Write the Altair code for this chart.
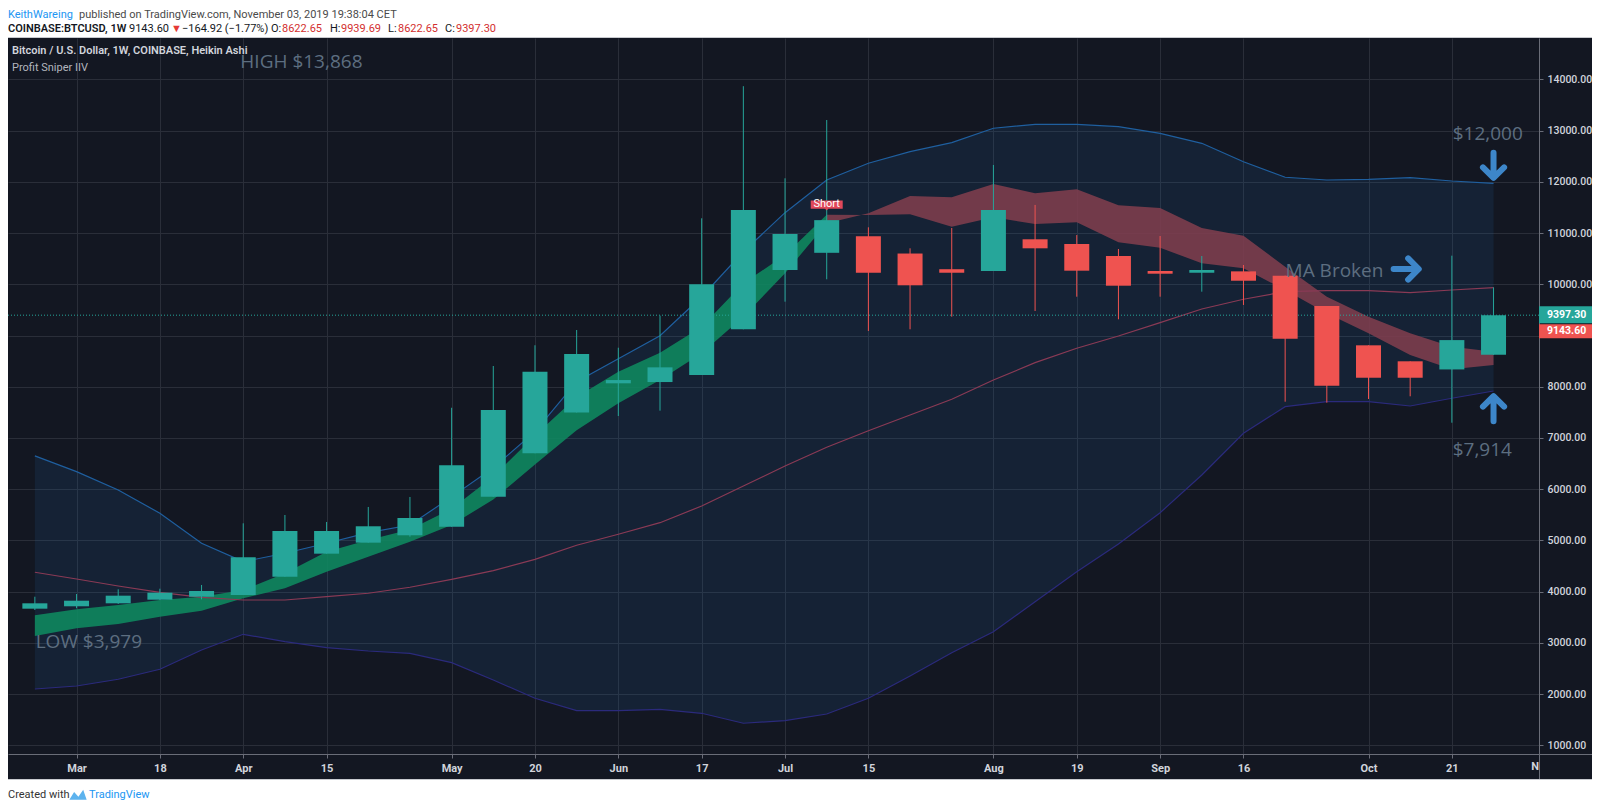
import json
import numpy as np
import pandas as pd
import altair as alt

# ---------------- data ----------------
week_start = ["2019-02-25", "2019-03-04", "2019-03-11", "2019-03-18", "2019-03-25",
              "2019-04-01", "2019-04-08", "2019-04-15", "2019-04-22", "2019-04-29",
              "2019-05-06", "2019-05-13", "2019-05-20", "2019-05-27", "2019-06-03",
              "2019-06-10", "2019-06-17", "2019-06-24", "2019-07-01", "2019-07-08",
              "2019-07-15", "2019-07-22", "2019-07-29", "2019-08-05", "2019-08-12",
              "2019-08-19", "2019-08-26", "2019-09-02", "2019-09-09", "2019-09-16",
              "2019-09-23", "2019-09-30", "2019-10-07", "2019-10-14", "2019-10-21",
              "2019-10-28"]

ha_open = [3667, 3714, 3772, 3843, 3901, 3934, 4292, 4741, 4956, 5100, 5268, 5854,
           6701, 7497, 8067, 8092, 8230, 9122, 10279, 10615, 10940, 10601, 10295,
           10260, 10879, 10787, 10553, 10260, 10226, 10253, 10169, 9577, 8809, 8497,
           8338, 8622.65]
ha_close = [3772, 3823, 3921, 3979, 4012, 4670, 5184, 5184, 5276, 5438, 6467, 7548,
            8294, 8640, 8131, 8379, 10000, 11452, 10980, 11253, 10226, 9981, 10226,
            11452, 10703, 10266, 9973, 10207, 10279, 10070, 8939, 8021, 8176, 8176,
            8911, 9397.30]
ha_high = [3901, 3954, 4046, 4057, 4130, 5334, 5496, 5360, 5653, 5848, 7590, 8405,
           8810, 9108, 8762, 9388, 11289, 13868, 12070, 13208, 11113, 10703, 11100,
           12330, 11550, 10962, 10689, 10943, 10553, 10377, 10169, 9577, 8809, 8497,
           10559, 9939.69]
ha_low = [3641, 3675, 3760, 3837, 3850, 3934, 4292, 4741, 4956, 5073, 5268, 5854,
          6701, 7497, 7429, 7533, 8230, 9122, 9661, 10098, 9089, 9122, 9368, 10260,
          9479, 9758, 9317, 9758, 9856, 9597, 7708, 7689, 7761, 7814, 7298, 8622.65]

bb_upper = [6651, 6342, 5985, 5530, 4944, 4585, 4749, 4944, 5151, 5300, 5850, 6420,
            7123, 8099, 8548, 8997, 9758, 10637, 11399, 12037, 12363, 12590, 12766,
            13047, 13124, 13124, 13078, 12948, 12753, 12394, 12090, 12037, 12050,
            12082, 12017, 11972]
bb_lower = [2099, 2158, 2289, 2484, 2861, 3167, 3023, 2906, 2841, 2796, 2613, 2275,
            1918, 1676, 1676, 1703, 1625, 1430, 1481, 1611, 1918, 2353, 2808, 3218,
            3804, 4389, 4930, 5541, 6277, 7091, 7611, 7708, 7708, 7624, 7775, 7917]
bb_basis = [4378, 4247, 4110, 3987, 3889, 3837, 3837, 3901, 3968, 4085, 4241, 4409,
            4631, 4905, 5120, 5346, 5672, 6062, 6453, 6818, 7142, 7449, 7755, 8132,
            8470, 8751, 8991, 9251, 9518, 9708, 9857, 9876, 9876, 9837, 9889, 9934]
ma_fast = [3538, 3655, 3739, 3837, 3901, 4032, 4358, 4780, 5008, 5213, 5620, 6250,
           7050, 7800, 8294, 8665, 9173, 10020, 10572, 11356, 11354, 11367, 11125,
           11307, 11178, 11211, 10820, 10715, 10410, 10313, 9889, 9434, 9044, 8620,
           8340, 8425]
ma_slow = [3134, 3284, 3368, 3511, 3628, 3870, 4065, 4390, 4682, 4975, 5300, 5800,
           6480, 7150, 7676, 8132, 8653, 9368, 10215, 11193, 11387, 11725, 11699,
           11959, 11777, 11855, 11543, 11490, 11100, 10949, 10344, 9758, 9368, 9044,
           8782, 8685]

tick_weeks = [1, 3, 5, 7, 10, 12, 14, 16, 18, 20, 23, 25, 27, 29, 32, 34]
tick_labels = ["Mar", "18", "Apr", "15", "May", "20", "Jun", "17", "Jul", "15",
               "Aug", "19", "Sep", "16", "Oct", "21"]
price_ticks = [1000, 2000, 3000, 4000, 5000, 6000, 7000, 8000, 9000, 10000, 11000,
               12000, 13000, 14000]
hidden_price_labels = [9000]   # covered by the last-price tag in the reference

ann_text = ["HIGH $13,868", "LOW $3,979", "$12,000", "MA Broken", "$7,914"]
ann_week = [4.93, 0.02, 34.02, 30.01, 34.02]
ann_price = [14340, 3017, 12935, 10260, 6765]

arrow_dir = ["down", "right", "up"]
arrow_week = [35.0, 32.92, 35.0]
arrow_price = [12310, 10299, 7585]

signal_week = [19]
signal_price = [11549]
signal_text = ["Short"]

last_close = 9397.30
last_price = 9143.60

# ---------------- frames ----------------
df = pd.DataFrame({
    "week": week_start, "k": list(range(len(week_start))),
    "open": ha_open, "close": ha_close, "high": ha_high, "low": ha_low,
    "upper": bb_upper, "lower": bb_lower, "basis": bb_basis,
    "fast": ma_fast, "slow": ma_slow,
})
df["dir"] = np.where(df["close"] >= df["open"], "up", "down")

W, H = 1531, 716
xs = alt.Scale(domain=[-0.5244, 35.971], nice=False, zero=False)
ys = alt.Scale(domain=[830, 14809], nice=False, zero=False)

GRID = "#2a2e39"
AXC = "#6a6d78"
LBL = "#d1d4dc"

x_label_expr = f"{json.dumps(tick_labels)}[indexof({json.dumps(tick_weeks)}, datum.value)]"
y_label_expr = (f"indexof({json.dumps(hidden_price_labels)}, datum.value) >= 0 ? '' : "
                "format(datum.value, '.2f')")

x_axis = alt.Axis(
    values=tick_weeks, labelExpr=x_label_expr, orient="bottom", title=None,
    grid=True, gridColor=GRID, domainColor=AXC, tickColor=AXC, tickSize=4,
    labelColor=LBL, labelFont="Roboto", labelFontSize=11, labelFontWeight="bold",
    labelPadding=4, labelOverlap=False, labelFlush=False)
y_axis = alt.Axis(
    values=price_ticks, labelExpr=y_label_expr, orient="right", title=None,
    grid=True, gridColor=GRID, domainColor=AXC, tickColor=AXC, tickSize=4,
    labelColor=LBL, labelFont="Roboto", labelFontSize=10.5, labelFontWeight=500,
    labelPadding=4, labelOverlap=False, labelFlush=False)


def X(f):
    return alt.X(f, type="quantitative", scale=xs, axis=x_axis)


def Y(f):
    return alt.Y(f, type="quantitative", scale=ys, axis=y_axis)


base = alt.Chart(df)

band = base.mark_area(color="#2162a8", opacity=0.15).encode(
    x=X("k"), y=Y("upper"), y2=alt.Y2("lower:Q"))
rib_g = base.transform_filter("datum.k <= 19").mark_area(color="#0f8a60", opacity=0.88).encode(
    x=X("k"), y=Y("fast"), y2=alt.Y2("slow:Q"))
rib_r = base.transform_filter("datum.k >= 19").mark_area(color="#7f3d4d", opacity=0.88).encode(
    x=X("k"), y=Y("slow"), y2=alt.Y2("fast:Q"))
up_line = base.mark_line(color="#1f5f9f", strokeWidth=1.2).encode(x=X("k"), y=Y("upper"))
lo_line = base.mark_line(color="#2b2a7c", strokeWidth=1.2).encode(x=X("k"), y=Y("lower"))
mid_line = base.mark_line(color="#8a3a55", strokeWidth=1.2).encode(x=X("k"), y=Y("basis"))

pl = alt.Chart(pd.DataFrame({"p": [last_close]})).mark_rule(
    color="#26a69a", strokeWidth=1, strokeDash=[1, 2]).encode(
    y=Y("p"), x=alt.value(0), x2=alt.value(W))

cscale = alt.Scale(domain=["up", "down"], range=["#26a69a", "#ef5350"])
wick = base.mark_rule(strokeWidth=1).encode(
    x=X("k"), y=Y("low"), y2=alt.Y2("high:Q"),
    color=alt.Color("dir:N", scale=cscale, legend=None))
body = base.mark_bar(width=25).encode(
    x=X("k"), y=Y("open"), y2=alt.Y2("close:Q"),
    color=alt.Color("dir:N", scale=cscale, legend=None))

ann = alt.Chart(pd.DataFrame({"k": ann_week, "p": ann_price, "t": ann_text})).mark_text(
    align="left", baseline="middle", font="Open Sans", fontSize=19, color="#5d6e80").encode(
    x=X("k"), y=Y("p"), text="t:N")

p_down = "M0,-1 L0,0.85 M-0.8,0.1 L0,0.9 L0.8,0.1"
p_up = "M0,1 L0,-0.85 M-0.8,-0.1 L0,-0.9 L0.8,-0.1"
p_right = "M-1,0 L0.85,0 M0.1,-0.8 L0.9,0 L0.1,0.8"
arrows = alt.Chart(pd.DataFrame({"k": arrow_week, "p": arrow_price, "d": arrow_dir})).mark_point(
    filled=False, strokeWidth=6, strokeCap="round", strokeJoin="round", size=700,
    color="#3d86c9", opacity=1).encode(
    x=X("k"), y=Y("p"),
    shape=alt.Shape("d:N", scale=alt.Scale(domain=["down", "right", "up"],
                                           range=[p_down, p_right, p_up]), legend=None))

sig_df = pd.DataFrame({"k": signal_week, "p": signal_price, "t": signal_text})
sig_box = alt.Chart(sig_df).mark_point(
    filled=True, size=1024, color="#e0485a", opacity=1, strokeWidth=0,
    shape="M-1,-0.28 L1,-0.28 L1,0.24 L0.1,0.24 L0,0.34 L-0.1,0.24 L-1,0.24 Z").encode(
    x=X("k"), y=Y("p"))
sig_txt = alt.Chart(sig_df).mark_text(
    font="Roboto", fontSize=11, color="white", baseline="middle", dy=-1).encode(
    x=X("k"), y=Y("p"), text="t:N")

lab1 = alt.Chart(pd.DataFrame({"p": [last_close], "t": [f"{last_close:.2f}"]}))
box1 = lab1.mark_rect(color="#26a69a", yOffset=-9, y2Offset=8).encode(
    x=alt.value(W), x2=alt.value(W + 55), y=Y("p"), y2=alt.Y2("p:Q"))
txt1 = lab1.mark_text(align="left", baseline="middle", font="Roboto", fontSize=10.5,
                      fontWeight="bold", color="white").encode(
    x=alt.value(W + 8), y=Y("p"), text="t:N")
lab2 = alt.Chart(pd.DataFrame({"p": [last_price], "t": [f"{last_price:.2f}"]}))
box2 = lab2.mark_rect(color="#ef5350", yOffset=-4, y2Offset=10).encode(
    x=alt.value(W), x2=alt.value(W + 55), y=Y("p"), y2=alt.Y2("p:Q"))
txt2 = lab2.mark_text(align="left", baseline="middle", font="Roboto", fontSize=10.5,
                      fontWeight="bold", color="white", dy=3).encode(
    x=alt.value(W + 8), y=Y("p"), text="t:N")

one = pd.DataFrame({"a": [0]})


def deco_rect(x0, x1, y0, y1, color):
    return alt.Chart(one).mark_rect(color=color).encode(
        x=alt.value(x0), x2=alt.value(x1), y=alt.value(y0), y2=alt.value(y1))


def deco_text(t, x, y, color, weight="normal", size=11):
    return alt.Chart(one).mark_text(
        text=t, align="left", baseline="middle", font="Roboto", fontSize=size,
        fontWeight=weight, color=color).encode(x=alt.value(x), y=alt.value(y))


head_bg = deco_rect(0, W + 60, -40, -1, "white")
foot_bg = deco_rect(0, W + 60, H + 25, H + 60, "white")
top_border = deco_rect(0, W + 60, -1, 0, "#c8cacf")
bot_border = deco_rect(0, W + 60, H + 25, H + 26, "#c8cacf")
vsep = deco_rect(W, W + 1, H, H + 25, AXC)
hsep = deco_rect(W, W + 60, H, H + 1, AXC)

pieces = [
    ("KeithWareing", 0, -23, "#2196f3", "normal"),
    ("published on TradingView.com, November 03, 2019 19:38:04 CET", 71, -23, "#4a4a4a", "normal"),
    ("COINBASE:BTCUSD, 1W", 0, -9, "#131722", 600),
    ("9143.60", 121, -9, "#131722", "normal"),
    ("\u25bc", 163, -9, "#e53935", "normal"),
    ("\u2212164.92 (\u22121.77%) O:", 174, -9, "#131722", "normal"),
    ("8622.65", 274, -9, "#d32f2f", "normal"),
    ("H:", 322, -9, "#131722", "normal"),
    ("9939.69", 333, -9, "#d32f2f", "normal"),
    ("L:", 380, -9, "#131722", "normal"),
    ("8622.65", 390, -9, "#d32f2f", "normal"),
    ("C:", 437, -9, "#131722", "normal"),
    ("9397.30", 448, -9, "#d32f2f", "normal"),
    ("Bitcoin / U.S. Dollar, 1W, COINBASE, Heikin Ashi", 4, 13, "#d1d4dc", 600),
    ("Profit Sniper IIV", 4, 30, "#b2b5be", "normal"),
    ("Created with", 0, H + 41, "#333333", "normal"),
    ("TradingView", 81, H + 41, "#2196f3", "normal"),
]
text_layers = [deco_text(t, x, y, c, w) for (t, x, y, c, w) in pieces]

logo = alt.Chart(one).mark_point(
    filled=True, size=300, color="#5db3ee", opacity=1, strokeWidth=0,
    shape="M-1,0.55 L-0.45,-0.35 L0.05,0.2 L0.6,-0.6 L1,0.55 Z").encode(
    x=alt.value(70), y=alt.value(H + 41))
n_lab = alt.Chart(one).mark_text(
    text="N", font="Roboto", fontSize=11, fontWeight="bold", color=LBL,
    align="center", baseline="middle").encode(x=alt.value(W - 4), y=alt.value(H + 13))

chart = alt.layer(
    band, head_bg, foot_bg, top_border, bot_border, vsep, hsep,
    rib_g, rib_r, up_line, lo_line, mid_line, pl,
    wick, body, ann, arrows, sig_box, sig_txt,
    box1, txt1, box2, txt2, logo, n_lab, *text_layers,
).properties(
    width=W, height=H, background="#131722",
    padding={"left": 0, "top": 30, "right": 53, "bottom": 49},
    autosize=alt.AutoSizeParams(type="none"),
).configure_view(strokeWidth=0)

chart.save("out.html", embed_options={"renderer": "svg", "actions": False})
